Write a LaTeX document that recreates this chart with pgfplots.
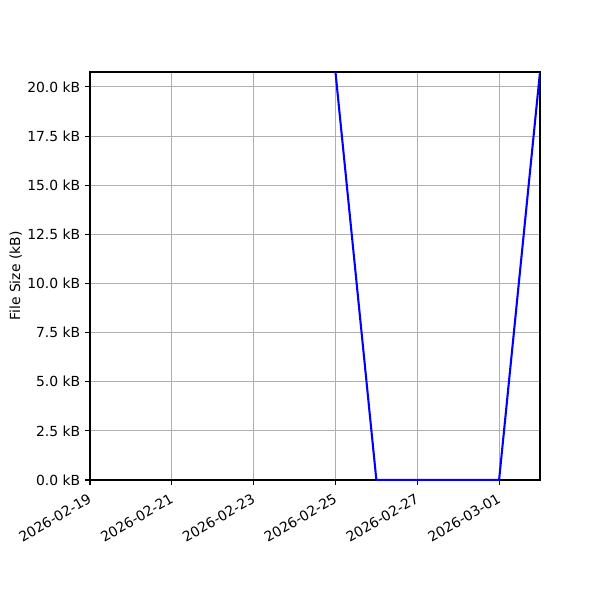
\documentclass[border=0pt]{standalone}
\usepackage{pgfplots}
\pgfplotsset{compat=1.18}
\usepackage{fontspec}
\setmainfont{DejaVu Sans}
\begin{document}
\begin{tikzpicture}[x=1pt,y=1pt]
\useasboundingbox (0,0) rectangle (432,432);
\begin{axis}[
    at={(64.8pt,86.4pt)},
    anchor=south west,
    width=324pt, height=293.76pt,
    scale only axis,
    xmin=0, xmax=11,
    ymin=0, ymax=20.76,
    xtick={0,2,4,6,8,10},
    xticklabels={2026-02-19,2026-02-21,2026-02-23,2026-02-25,2026-02-27,2026-03-01},
    x tick label style={rotate=30, anchor=north east, font=\fontsize{10}{12}\selectfont, inner sep=1pt, yshift=-3pt, xshift=-3.5pt},
    ytick={0,2.5,5,7.5,10,12.5,15,17.5,20},
    yticklabels={0.0 kB,2.5 kB,5.0 kB,7.5 kB,10.0 kB,12.5 kB,15.0 kB,17.5 kB,20.0 kB},
    y tick label style={font=\fontsize{10}{12}\selectfont},
    ylabel={File Size (kB)},
    ylabel style={font=\fontsize{10}{12}\selectfont, yshift=-3pt},
    grid=major,
    grid style={color=black!31, line width=0.8pt},
    tick align=outside,
    tick pos=left,
    major tick length=3.5pt,
    tick style={black, line width=0.8pt},
    axis line style={line width=0.8pt},
    clip=true,
]
\addplot[color=blue, line width=1.5pt, mark=none] coordinates {
    (6, 20.76) (7, 0) (8, 0) (9, 0) (10, 0) (11, 20.76)
};
\end{axis}
\end{tikzpicture}
\end{document}
